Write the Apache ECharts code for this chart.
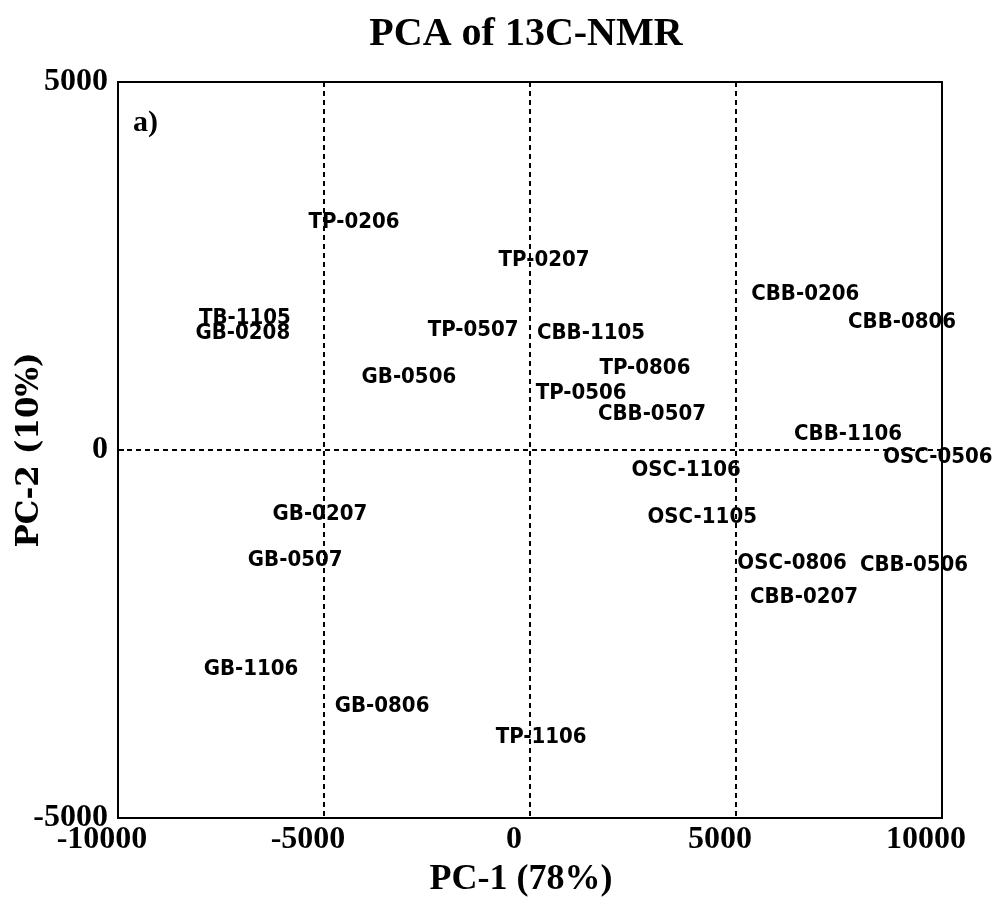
<!DOCTYPE html>
<html>
<head>
<meta charset="utf-8">
<title>PCA of 13C-NMR</title>
<script src="https://cdn.jsdelivr.net/npm/echarts@6/dist/echarts.min.js"></script>
<style>
  html, body { margin: 0; padding: 0; background: #fff; }
  #chart { width: 996px; height: 906px; }
</style>
</head>
<body>
<div id="chart"></div>
<script>
// Sample names and their scores on the first two principal components
var sampleNames = [
  'TP-0206', 'TP-0207', 'TB-1105', 'GB-0208', 'TP-0507', 'CBB-1105',
  'GB-0506', 'TP-0806', 'TP-0506', 'CBB-0507', 'CBB-0206', 'CBB-0806',
  'CBB-1106', 'OSC-0506', 'OSC-1106', 'OSC-1105', 'OSC-0806', 'CBB-0506',
  'CBB-0207', 'GB-0207', 'GB-0507', 'GB-1106', 'GB-0806', 'TP-1106'
];
var pc1Scores = [
  -4270, 340, -6920, -6970, -1380, 1480,
  -2940, 2790, 1240, 2960, 6680, 9030,
  7720, 9900, 3790, 4180, 6360, 9320,
  6650, -5100, -5700, -6770, -3590, 270
];
var pc2Scores = [
  3100, 2580, 1790, 1580, 1620, 1580,
  990, 1110, 770, 490, 2110, 1730,
  220, -100, -270, -910, -1540, -1560,
  -2000, -880, -1500, -2980, -3480, -3910
];

// Axis ranges and tick step
var xMin = -10000, xMax = 10000;
var yMin = -5000, yMax = 5000;
var tickStep = 5000;

var points = sampleNames.map(function (n, i) {
  return { name: n, value: [pc1Scores[i], pc2Scores[i]] };
});

var chart = echarts.init(document.getElementById('chart'));

var serifFont = '"Liberation Serif", "Times New Roman", serif';
var labelFont = '"DejaVu Sans Condensed", "Liberation Sans", sans-serif';

function plainNumber(v) { return String(v); }

chart.setOption({
  backgroundColor: '#ffffff',
  animation: false,
  title: {
    text: 'PCA of 13C-NMR',
    left: 521,
    textAlign: 'center',
    top: 10,
    textStyle: {
      fontFamily: serifFont,
      fontWeight: 'bold',
      fontSize: 40,
      color: '#000'
    }
  },
  grid: {
    left: 118,
    right: 54,
    top: 82,
    bottom: 88,
    containLabel: false,
    outerBoundsMode: 'none',
    show: true,
    borderColor: '#000',
    borderWidth: 2,
    backgroundColor: 'transparent'
  },
  xAxis: {
    type: 'value',
    min: xMin,
    max: xMax,
    interval: tickStep,
    name: 'PC-1 (78%)',
    nameLocation: 'middle',
    nameGap: 44,
    nameMoveOverlap: false,
    nameTextStyle: {
      fontFamily: serifFont,
      fontWeight: 'bold',
      fontSize: 36,
      color: '#000',
      padding: [0, 18, 0, 0]
    },
    axisLine: { show: true, onZero: false, lineStyle: { color: '#000', width: 2 } },
    axisTick: { show: false },
    axisLabel: {
      show: true,
      margin: 6,
      formatter: plainNumber,
      fontFamily: serifFont,
      fontWeight: 'bold',
      fontSize: 32,
      color: '#000',
      padding: [0, 32, 0, 0]
    },
    splitLine: {
      show: true,
      lineStyle: { color: '#000', width: 2, type: [5, 4] }
    }
  },
  yAxis: {
    type: 'value',
    min: yMin,
    max: yMax,
    interval: tickStep,
    name: 'PC-2 (10%)',
    nameLocation: 'middle',
    nameGap: 73,
    nameRotate: 90,
    nameMoveOverlap: false,
    nameTextStyle: {
      fontFamily: '"DejaVu Serif", serif',
      fontWeight: 'bold',
      fontSize: 31,
      color: '#000'
    },
    axisLine: { show: true, onZero: false, lineStyle: { color: '#000', width: 2 } },
    axisTick: { show: true, inside: true, length: 6, lineStyle: { color: '#000', width: 2 } },
    axisLabel: {
      show: true,
      margin: 10,
      formatter: plainNumber,
      fontFamily: serifFont,
      fontWeight: 'bold',
      fontSize: 32,
      color: '#000'
    },
    splitLine: {
      show: true,
      lineStyle: { color: '#000', width: 2, type: [5, 4] }
    }
  },
  graphic: [
    {
      type: 'text',
      left: 133,
      top: 108,
      style: {
        text: 'a)',
        fontFamily: serifFont,
        fontWeight: 'bold',
        fontSize: 30,
        fill: '#000'
      }
    }
  ],
  series: [
    {
      type: 'scatter',
      data: points,
      symbolSize: 1,
      itemStyle: { color: 'rgba(0,0,0,0)' },
      label: {
        show: true,
        position: 'inside',
        formatter: '{b}',
        fontFamily: labelFont,
        fontWeight: 'bold',
        fontSize: 22,
        color: '#000000',
        opacity: 1,
        textBorderWidth: 0,
        textBorderColor: 'transparent'
      },
      labelLayout: { hideOverlap: false }
    }
  ]
});
</script>
</body>
</html>
